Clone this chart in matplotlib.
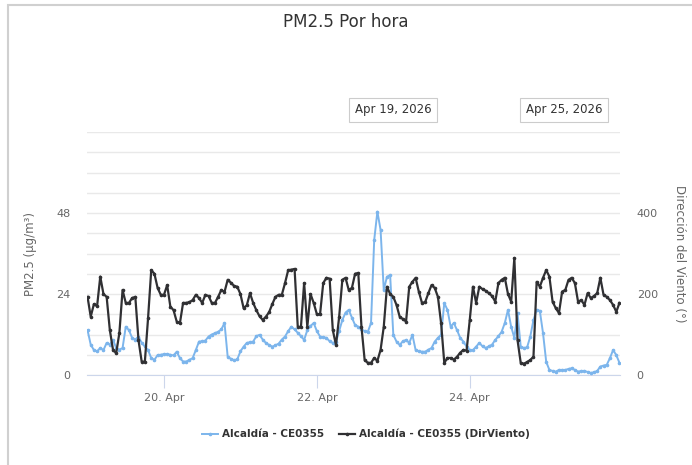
import numpy as np
import pandas as pd
import matplotlib
matplotlib.use("Agg")
import matplotlib.pyplot as plt
import matplotlib.dates as mdates
from matplotlib.lines import Line2D
from matplotlib.patches import Rectangle

plt.rcParams['font.family'] = ['DejaVu Sans']

# hourly values, 19 Apr 2026 00:00 -> 25 Apr 2026 23:00
pm25 = [13.3, 9, 7.4, 7, 8, 7.4, 9.5, 9, 10.4, 8, 7.5, 8,
        14.3, 13.3, 11, 10.5, 11.4, 9.5, 8.5, 7.4, 5, 4.5, 5.9, 6,
        6.2, 6.2, 6, 5.8, 6.9, 5, 4, 4, 4.5, 5, 7.4, 9.9,
        10, 10.2, 11.4, 12, 12.4, 12.8, 13.5, 15.4, 5.4, 4.8, 4.4, 4.6,
        7, 8.4, 9.5, 9.7, 9.9, 11.5, 11.9, 10.5, 9.5, 8.9, 8.4, 8.8,
        9.3, 10.5, 11.4, 13, 14.3, 13.5, 12.5, 11.5, 10.4, 13.3, 14.5, 15.4,
        13, 11.4, 11.2, 11, 10, 9.5, 9.8, 13, 16.3, 18.5, 19.3, 17,
        14.8, 14.3, 13.5, 13, 12.8, 15.4, 40, 48.4, 43, 25.2, 29.1, 29.6,
        11.9, 9.9, 8.9, 10, 10.4, 9.5, 11.9, 7.4, 7, 6.9, 6.9, 7.5,
        8, 9.9, 11, 11.9, 21.3, 19.3, 14.3, 15.4, 13.3, 11, 9.9, 8.4,
        7.4, 7.4, 8.4, 9.5, 8.5, 8, 8.5, 9, 10.4, 11.5, 12.8, 15.4,
        19.3, 14.3, 11, 18.3, 8.4, 8, 8.2, 11.4, 16.3, 19.3, 19, 12.4,
        3.9, 1.5, 1.2, 1, 1.5, 1.5, 1.5, 1.8, 2, 1.5, 1, 1.2,
        1.2, 0.9, 0.6, 0.8, 1.2, 2.5, 2.8, 3, 5, 7.4, 5.9, 3.6]

dir_viento = [193, 144, 175, 170, 243, 200, 193, 111, 62, 54, 104, 210,
              178, 178, 190, 193, 86, 33, 33, 140, 259, 250, 215, 198,
              198, 222, 169, 160, 132, 128, 178, 178, 180, 185, 198, 190,
              178, 198, 195, 178, 178, 193, 210, 205, 235, 228, 220, 218,
              200, 165, 172, 202, 178, 160, 145, 136, 144, 155, 175, 193,
              198, 198, 227, 259, 260, 262, 119, 119, 227, 119, 200, 178,
              150, 150, 227, 240, 238, 111, 74, 144, 235, 240, 210, 215,
              250, 252, 119, 37, 30, 30, 42, 35, 62, 119, 218, 200,
              193, 173, 144, 138, 132, 218, 230, 240, 206, 178, 180, 202,
              222, 215, 193, 128, 30, 42, 42, 38, 45, 55, 62, 60,
              136, 218, 178, 218, 212, 208, 202, 195, 181, 227, 235, 240,
              200, 181, 289, 86, 30, 28, 32, 37, 45, 230, 218, 240,
              259, 243, 181, 165, 153, 206, 210, 235, 240, 227, 181, 185,
              173, 202, 190, 195, 202, 240, 198, 193, 185, 173, 156, 178]

fechas = pd.date_range("2026-04-19 00:00", periods=len(pm25), freq="h")
serie_pm = "Alcaldía - CE0355"
serie_dir = "Alcaldía - CE0355 (DirViento)"
azul = "#7cb5ec"
negro = "#303033"

fig = plt.figure(figsize=(6.92, 4.65), dpi=100)
fig.patches.append(Rectangle((8 / 692, -0.1), 1.0, 1.1 - 5 / 465,
                             transform=fig.transFigure, fill=False,
                             edgecolor="#d0d0d0", linewidth=1.5))

ax = fig.add_axes([87 / 692, 90 / 465, 533 / 692, 243 / 465])
ax2 = ax.twinx()

ax.plot(fechas, pm25, color=azul, linewidth=1.4, marker="o", markersize=1.6, zorder=3)
ax2.plot(fechas, dir_viento, color=negro, linewidth=1.6, marker="o", markersize=1.6, zorder=3)

ax.set_ylim(0, 72)
ax2.set_ylim(0, 600)
ax.set_xlim(fechas[0] - pd.Timedelta(minutes=10), fechas[-1] + pd.Timedelta(minutes=10))

ax.set_yticks([0, 24, 48])
ax.set_yticks(np.arange(0, 73, 6), minor=True)
ax2.set_yticks([0, 200, 400])
ax.grid(True, which="both", axis="y", color="#e9e9e9", linewidth=1)
ax.set_axisbelow(True)

ax.xaxis.set_major_locator(mdates.DayLocator(bymonthday=[20, 22, 24]))
ax.xaxis.set_major_formatter(mdates.DateFormatter("%d. %b"))

for a in (ax, ax2):
    for s in a.spines.values():
        s.set_visible(False)
    a.tick_params(axis="y", length=0, labelsize=8, labelcolor="#666666", pad=12)
    a.tick_params(axis="y", which="minor", length=0)
ax.spines["bottom"].set_visible(True)
ax.spines["bottom"].set_color("#ccd6eb")
ax.tick_params(axis="x", length=9, color="#ccd6eb", labelsize=8, labelcolor="#666666", pad=4)

ax.set_ylabel("PM2.5 (µg/m³)", fontsize=8.5, color="#666666", labelpad=14)
ax2.set_ylabel("Dirección del Viento (°)", fontsize=8.5, color="#666666",
               rotation=-90, labelpad=20)

fig.text(0.5, 1 - 22 / 465, "PM2.5 Por hora", ha="center", va="center",
         fontsize=12, color="#333333")

for xc, txt in [(393, "Apr 19, 2026"), (564, "Apr 25, 2026")]:
    fig.text(xc / 692, 1 - 110 / 465, txt, ha="center", va="center", fontsize=8.5,
             color="#333333",
             bbox=dict(boxstyle="square,pad=0.45", facecolor="white", edgecolor="#cccccc", linewidth=0.8))

manejadores = [Line2D([], [], color=azul, linewidth=1.4, marker="o", markersize=1.6),
               Line2D([], [], color=negro, linewidth=1.6, marker="o", markersize=1.6)]
fig.legend(manejadores, [serie_pm, serie_dir], loc="center", bbox_to_anchor=(366 / 692, 1 - 434 / 465),
           ncol=2, frameon=False, prop={"size": 7.5, "weight": "bold"}, labelcolor="#333333",
           handlelength=1.5, columnspacing=1.5, handletextpad=0.4)

fig.savefig("out.png", dpi=100)
